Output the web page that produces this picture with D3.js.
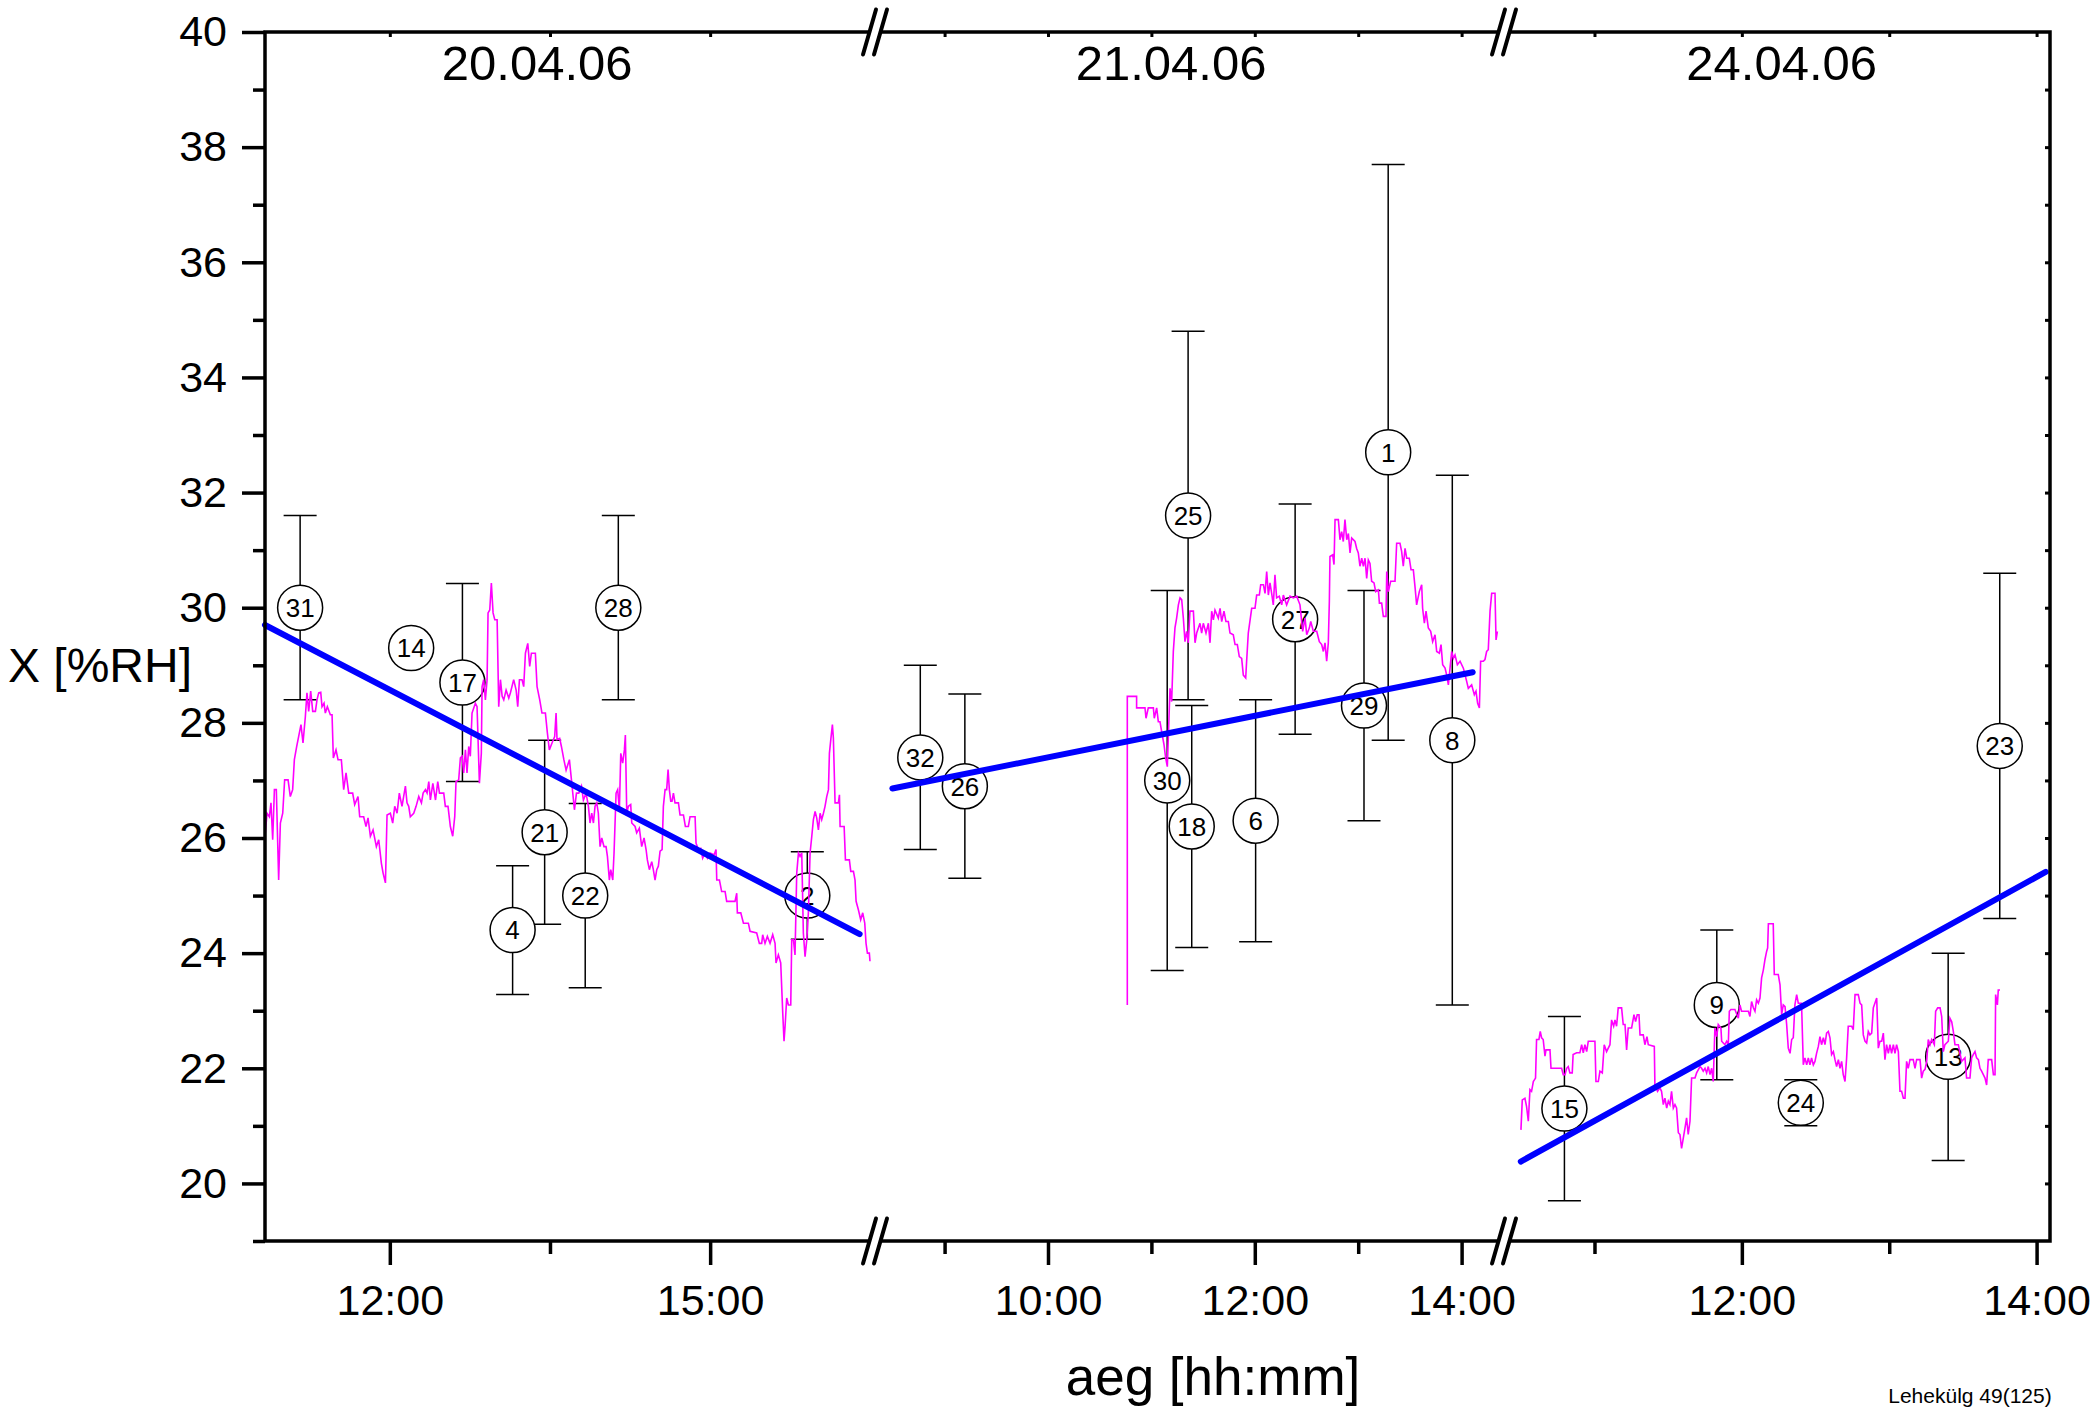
<!DOCTYPE html>
<html>
<head>
<meta charset="utf-8">
<script src="https://cdn.jsdelivr.net/npm/d3@7"></script>
<style>
  html, body { margin: 0; padding: 0; background: #fff; }
  svg { display: block; }
  text { font-family: "Liberation Sans", Arial, Helvetica, sans-serif; fill: #000; }
</style>
</head>
<body>
<svg id="chart" width="2100" height="1413"></svg>
<script>
// ---------------- data ----------------
// measurement days (one panel per day, broken time axis)
const days = ["20.04.06", "21.04.06", "24.04.06"];
// visible clock-hour range of each panel
const dayRanges = [[10.831, 16.544], [8.327, 14.41], [10.386, 14.091]];
const majorHours = [[12, 15], [10, 12, 14], [12, 14]];
const minorHours = [[13.5], [9, 11, 13], [11, 13]];
const yMajor = [20, 22, 24, 26, 28, 30, 32, 34, 36, 38, 40];
const yMinor = [19, 21, 23, 25, 27, 29, 31, 33, 35, 37, 39];

// numbered reference measurements: id, clock hour, mean %RH, half-width of error bar
const sampleIds = [
  [31, 14, 17, 4, 21, 22, 28, 2],
  [32, 26, 30, 25, 18, 6, 27, 29, 1, 8],
  [15, 9, 24, 13, 23]
];
const sampleHours = [
  [11.16, 12.20, 12.68, 13.15, 13.45, 13.83, 14.14, 15.91],
  [8.765, 9.196, 11.153, 11.355, 11.39, 12.008, 12.39, 13.056, 13.29, 13.91],
  [10.796, 11.83, 12.40, 13.40, 13.75]
];
const sampleValues = [
  [30.0, 29.3, 28.7, 24.4, 26.1, 25.0, 30.0, 25.0],
  [27.4, 26.9, 27.0, 31.6, 26.2, 26.3, 29.8, 28.3, 32.7, 27.7],
  [21.3, 23.1, 21.4, 22.2, 27.6]
];
const sampleErrors = [
  [1.6, 0, 1.72, 1.12, 1.6, 1.6, 1.6, 0.76],
  [1.6, 1.6, 3.3, 3.2, 2.1, 2.1, 2.0, 2.0, 5.0, 4.6],
  [1.6, 1.3, 0.4, 1.8, 3.0]
];

// linear trend per day: [hour, %RH] at both ends
const trendStart = [[10.831, 29.70], [8.495, 26.86], [10.50, 20.38]];
const trendEnd = [[16.40, 24.33], [14.107, 28.88], [14.062, 25.41]];

// logger record per day: [clock hour, %RH]
const loggerDay1 = [
  [10.834,26.09],[10.850,26.43],[10.872,26.37],[10.887,26.61],[10.903,25.97],[10.919,26.84],[10.937,26.84],
  [10.959,25.27],[10.975,26.26],[10.997,26.43],[11.015,27.01],[11.047,27.01],[11.068,26.72],[11.090,26.84],
  [11.106,27.36],[11.128,27.59],[11.146,27.76],[11.168,27.97],[11.187,27.65],[11.209,28.11],[11.224,28.52],
  [11.240,28.20],[11.259,28.55],[11.278,28.20],[11.303,28.20],[11.318,28.40],[11.334,28.52],[11.353,28.53],
  [11.365,28.28],[11.384,28.34],[11.396,28.17],[11.415,28.28],[11.443,28.14],[11.459,28.14],[11.471,27.39],
  [11.496,27.53],[11.515,27.36],[11.546,27.36],[11.568,26.84],[11.590,27.13],[11.615,26.78],[11.652,26.78],
  [11.671,26.58],[11.702,26.72],[11.718,26.37],[11.755,26.37],[11.777,26.20],[11.796,26.35],[11.818,26.03],
  [11.843,26.14],[11.874,25.85],[11.896,25.97],[11.921,25.56],[11.937,25.39],[11.959,25.22],[11.974,26.40],
  [12.005,26.43],[12.027,26.26],[12.046,26.55],[12.068,26.43],[12.089,26.78],[12.114,26.55],[12.146,26.90],
  [12.161,26.61],[12.177,26.55],[12.192,26.37],[12.224,26.43],[12.246,26.55],[12.271,26.72],[12.296,26.61],
  [12.312,26.78],[12.334,26.84],[12.349,26.78],[12.365,26.98],[12.380,26.66],[12.403,26.95],[12.428,26.66],
  [12.449,26.98],[12.465,26.78],[12.505,26.78],[12.520,26.55],[12.545,26.55],[12.567,26.20],[12.589,26.03],
  [12.608,26.37],[12.620,26.98],[12.645,27.01],[12.661,27.39],[12.677,27.42],[12.692,27.13],[12.708,27.53],
  [12.723,27.13],[12.739,27.59],[12.754,27.42],[12.770,28.17],[12.801,28.34],[12.817,28.28],[12.839,26.95],
  [12.857,27.47],[12.864,28.63],[12.879,28.75],[12.895,28.40],[12.911,28.75],[12.920,29.91],[12.936,29.96],
  [12.951,30.43],[12.967,29.91],[12.983,29.79],[13.005,29.79],[13.020,28.28],[13.036,28.75],[13.052,28.46],
  [13.067,28.40],[13.089,28.57],[13.114,28.43],[13.129,28.52],[13.160,28.75],[13.183,28.57],[13.198,28.28],
  [13.214,28.75],[13.238,28.75],[13.254,28.63],[13.270,29.21],[13.292,29.38],[13.310,28.98],[13.326,29.21],
  [13.363,29.21],[13.379,28.63],[13.404,28.40],[13.425,28.17],[13.457,28.17],[13.476,27.82],[13.494,27.53],
  [13.519,27.65],[13.544,27.76],[13.557,28.17],[13.566,27.71],[13.591,27.73],[13.607,27.59],[13.630,27.36],
  [13.651,27.18],[13.682,27.36],[13.707,26.90],[13.729,26.49],[13.748,26.78],[13.770,26.78],[13.795,26.90],
  [13.813,26.66],[13.838,26.78],[13.860,26.55],[13.875,26.26],[13.891,26.43],[13.907,26.26],[13.922,26.55],
  [13.938,26.61],[13.953,26.43],[13.969,25.85],[13.985,26.00],[14.006,25.85],[14.025,25.85],[14.038,25.68],
  [14.056,25.27],[14.069,25.45],[14.088,25.27],[14.100,25.74],[14.119,26.78],[14.134,26.84],[14.150,26.49],
  [14.163,27.47],[14.181,27.30],[14.197,27.53],[14.206,27.79],[14.219,26.43],[14.234,26.55],[14.256,26.58],
  [14.266,26.26],[14.297,26.20],[14.312,26.09],[14.337,26.17],[14.359,25.85],[14.381,26.00],[14.400,25.80],
  [14.412,25.62],[14.431,25.45],[14.453,25.59],[14.468,25.45],[14.484,25.27],[14.500,25.45],[14.515,25.51],
  [14.531,25.77],[14.550,25.80],[14.562,26.55],[14.578,26.84],[14.593,26.84],[14.606,27.19],[14.618,26.84],
  [14.631,26.64],[14.643,26.64],[14.656,26.78],[14.671,26.61],[14.703,26.61],[14.718,26.40],[14.750,26.40],
  [14.768,26.20],[14.796,26.20],[14.812,26.37],[14.859,26.37],[14.868,25.91],[14.890,25.80],[14.912,25.82],
  [14.930,25.65],[14.952,25.74],[14.974,25.65],[14.999,25.74],[15.037,25.71],[15.055,25.80],[15.062,25.27],
  [15.087,25.27],[15.108,25.07],[15.140,25.07],[15.155,24.90],[15.233,24.90],[15.249,25.04],[15.255,24.70],
  [15.287,24.70],[15.312,24.52],[15.358,24.52],[15.374,24.38],[15.436,24.35],[15.461,24.17],[15.483,24.17],
  [15.492,24.32],[15.514,24.17],[15.536,24.29],[15.561,24.17],[15.586,24.32],[15.608,24.17],[15.617,23.83],
  [15.639,23.97],[15.661,23.83],[15.680,22.96],[15.692,22.47],[15.702,22.73],[15.717,23.22],[15.733,23.10],
  [15.755,23.10],[15.764,24.23],[15.780,24.23],[15.795,23.97],[15.811,25.39],[15.827,25.74],[15.842,25.68],
  [15.858,25.74],[15.873,24.35],[15.889,23.94],[15.905,24.23],[15.920,24.70],[15.936,25.74],[15.952,26.03],
  [15.967,26.32],[15.983,26.46],[15.998,26.35],[16.014,26.14],[16.030,26.43],[16.045,26.32],[16.061,26.43],
  [16.076,26.55],[16.092,26.72],[16.108,26.84],[16.117,27.47],[16.130,27.71],[16.145,27.97],[16.154,27.74],
  [16.170,26.61],[16.201,26.61],[16.211,26.75],[16.217,26.20],[16.255,26.20],[16.267,25.62],[16.304,25.62],
  [16.317,25.42],[16.342,25.42],[16.357,25.27],[16.367,24.90],[16.389,24.75],[16.410,24.58],[16.429,24.70],
  [16.448,24.52],[16.460,24.17],[16.473,24.00],[16.491,24.00],[16.497,23.86]
];
const loggerDay2 = [
  [10.767,23.10],[10.767,28.46],[10.857,28.46],[10.857,28.26],[10.938,28.26],[10.948,28.08],[10.970,28.26],
  [11.019,28.26],[11.028,28.08],[11.051,28.26],[11.067,28.02],[11.083,28.02],[11.099,27.85],[11.122,27.62],
  [11.138,27.39],[11.154,27.24],[11.170,28.08],[11.180,28.60],[11.196,28.37],[11.212,29.24],[11.228,29.65],
  [11.244,29.82],[11.261,30.05],[11.277,30.17],[11.293,30.14],[11.309,29.82],[11.325,29.41],[11.341,29.59],
  [11.357,29.39],[11.373,29.94],[11.406,29.94],[11.422,29.39],[11.438,29.56],[11.470,29.73],[11.486,29.56],
  [11.502,29.73],[11.528,29.56],[11.551,29.73],[11.567,29.39],[11.583,29.94],[11.599,29.79],[11.615,29.96],
  [11.647,29.82],[11.664,29.99],[11.680,29.76],[11.702,29.94],[11.721,29.76],[11.744,29.76],[11.760,29.56],
  [11.792,29.53],[11.809,29.36],[11.831,29.36],[11.850,29.15],[11.873,29.12],[11.889,28.83],[11.912,28.78],
  [11.921,29.07],[11.937,29.56],[11.970,29.99],[12.002,29.99],[12.018,30.22],[12.044,30.22],[12.057,30.40],
  [12.083,30.40],[12.099,30.25],[12.115,30.63],[12.131,30.22],[12.147,30.43],[12.163,30.25],[12.179,30.05],
  [12.195,30.57],[12.211,30.17],[12.237,30.20],[12.260,30.05],[12.276,30.22],[12.308,30.05],[12.341,30.20],
  [12.373,30.17],[12.405,30.20],[12.437,30.05],[12.463,29.59],[12.486,29.82],[12.502,29.53],[12.528,29.65],
  [12.541,29.76],[12.566,29.59],[12.599,29.59],[12.624,29.41],[12.647,29.36],[12.663,29.24],[12.679,29.39],
  [12.695,29.07],[12.711,29.39],[12.721,30.11],[12.727,30.89],[12.753,30.92],[12.766,30.75],[12.776,31.53],
  [12.808,31.53],[12.824,31.18],[12.840,31.32],[12.856,31.15],[12.872,31.53],[12.889,31.18],[12.905,31.29],
  [12.921,30.95],[12.937,31.21],[12.969,31.15],[12.985,31.03],[13.001,30.95],[13.017,30.72],[13.034,30.86],
  [13.050,30.72],[13.066,30.86],[13.082,30.51],[13.098,30.83],[13.114,30.77],[13.130,30.46],[13.153,30.43],
  [13.169,30.28],[13.195,30.31],[13.205,30.08],[13.227,30.08],[13.243,29.85],[13.269,29.85],[13.276,30.63],
  [13.292,30.28],[13.314,30.46],[13.356,30.46],[13.372,31.12],[13.404,31.12],[13.420,30.98],[13.436,30.72],
  [13.453,31.03],[13.469,30.86],[13.494,30.86],[13.511,30.66],[13.533,30.66],[13.549,30.37],[13.565,30.05],
  [13.591,30.28],[13.614,30.40],[13.623,29.99],[13.640,29.73],[13.656,29.94],[13.678,29.65],[13.701,29.59],
  [13.720,29.41],[13.743,29.53],[13.759,29.24],[13.785,29.21],[13.801,29.36],[13.817,29.01],[13.840,28.95],
  [13.856,28.83],[13.872,28.66],[13.888,28.95],[13.904,29.24],[13.920,29.12],[13.936,29.18],[13.959,29.01],
  [13.985,29.07],[14.017,28.95],[14.049,28.72],[14.065,28.60],[14.097,28.66],[14.123,28.49],[14.139,28.55],
  [14.155,28.34],[14.172,28.26],[14.184,29.07],[14.210,29.07],[14.226,29.10],[14.242,29.24],[14.258,29.27],
  [14.275,29.94],[14.291,30.25],[14.323,30.25],[14.333,29.44],[14.346,29.59]
];
const loggerDay3 = [
  [10.501,20.93],[10.510,21.45],[10.528,21.48],[10.539,21.34],[10.551,21.08],[10.562,21.63],[10.573,21.60],
  [10.585,21.77],[10.600,21.83],[10.607,22.50],[10.623,22.50],[10.632,22.64],[10.641,22.53],[10.652,22.50],
  [10.664,22.21],[10.671,22.32],[10.698,22.32],[10.705,22.00],[10.777,22.00],[10.788,21.89],[10.800,21.89],
  [10.811,22.00],[10.822,22.03],[10.833,21.92],[10.849,21.92],[10.855,22.24],[10.879,22.27],[10.901,22.27],
  [10.913,22.41],[10.924,22.27],[10.935,22.41],[10.947,22.29],[10.958,22.47],[11.003,22.47],[11.010,21.77],
  [11.026,21.77],[11.037,21.95],[11.053,21.92],[11.066,22.41],[11.082,22.29],[11.105,22.41],[11.116,22.84],
  [11.130,22.73],[11.139,22.84],[11.150,22.73],[11.161,23.05],[11.184,23.05],[11.195,22.76],[11.207,22.76],
  [11.218,22.32],[11.229,22.70],[11.252,22.70],[11.268,22.93],[11.279,22.81],[11.290,22.93],[11.302,22.93],
  [11.309,22.58],[11.331,22.58],[11.342,22.41],[11.356,22.55],[11.365,22.41],[11.406,22.38],[11.410,21.71],
  [11.428,21.60],[11.444,21.66],[11.455,21.60],[11.467,21.37],[11.478,21.48],[11.490,21.31],[11.501,21.43],
  [11.512,21.37],[11.523,21.60],[11.535,21.31],[11.546,21.37],[11.557,21.31],[11.569,20.88],[11.580,20.85],
  [11.591,20.61],[11.603,20.79],[11.614,20.96],[11.625,21.14],[11.636,20.85],[11.648,21.08],[11.659,21.83],
  [11.682,21.83],[11.693,21.92],[11.716,22.03],[11.727,22.00],[11.738,21.95],[11.750,22.00],[11.761,21.92],
  [11.772,22.03],[11.784,21.89],[11.795,22.00],[11.806,21.77],[11.817,22.70],[11.829,22.55],[11.840,22.76],
  [11.858,22.70],[11.863,22.47],[11.874,22.44],[11.885,22.41],[11.897,22.47],[11.908,22.41],[11.915,22.99],
  [11.926,23.02],[11.953,23.02],[11.976,22.87],[11.987,23.10],[11.998,22.99],[12.044,22.99],[12.055,22.90],
  [12.066,23.16],[12.078,23.05],[12.089,22.99],[12.100,23.19],[12.112,23.13],[12.123,23.22],[12.134,23.57],
  [12.146,23.71],[12.157,23.89],[12.168,24.03],[12.175,24.09],[12.180,24.51],[12.213,24.51],[12.220,23.63],
  [12.247,23.63],[12.259,23.45],[12.270,22.93],[12.281,23.10],[12.293,23.07],[12.304,22.76],[12.315,22.35],
  [12.327,22.26],[12.338,22.50],[12.349,22.53],[12.360,23.10],[12.372,23.28],[12.383,23.13],[12.405,23.13],
  [12.417,22.06],[12.428,22.18],[12.440,22.06],[12.451,22.18],[12.462,22.06],[12.473,22.18],[12.485,22.06],
  [12.496,22.12],[12.507,22.26],[12.519,22.38],[12.530,22.55],[12.541,22.41],[12.553,22.53],[12.564,22.41],
  [12.575,22.61],[12.587,22.64],[12.598,22.53],[12.609,22.24],[12.621,22.29],[12.632,22.15],[12.643,22.03],
  [12.655,22.15],[12.666,22.00],[12.677,22.12],[12.688,21.89],[12.700,21.77],[12.711,22.18],[12.722,22.73],
  [12.745,22.73],[12.756,22.67],[12.768,23.28],[12.790,23.28],[12.802,23.13],[12.813,23.10],[12.824,22.58],
  [12.836,22.47],[12.847,22.44],[12.858,22.64],[12.869,22.58],[12.881,22.61],[12.892,23.05],[12.915,23.22],
  [12.926,22.35],[12.937,22.47],[12.949,22.47],[12.960,22.61],[12.971,22.15],[12.982,22.41],[12.994,22.26],
  [13.005,22.41],[13.016,22.26],[13.028,22.41],[13.039,22.26],[13.050,22.41],[13.062,22.29],[13.073,21.60],
  [13.084,21.60],[13.096,21.48],[13.107,21.48],[13.118,22.12],[13.129,22.00],[13.141,22.15],[13.163,22.15],
  [13.175,22.00],[13.186,22.15],[13.209,22.15],[13.220,21.83],[13.231,21.95],[13.243,21.98],[13.254,22.12],
  [13.265,22.50],[13.277,22.41],[13.288,22.50],[13.306,22.41],[13.315,22.99],[13.329,23.05],[13.345,23.05],
  [13.356,22.90],[13.367,22.29],[13.378,22.41],[13.401,22.47],[13.412,22.87],[13.424,22.81],[13.435,22.64],
  [13.446,22.41],[13.469,22.41],[13.491,22.12],[13.514,22.18],[13.525,21.83],[13.548,21.83],[13.559,22.18],
  [13.571,22.24],[13.582,22.29],[13.593,22.18],[13.605,22.15],[13.616,22.00],[13.627,21.95],[13.650,21.83],
  [13.661,21.71],[13.672,22.15],[13.695,22.15],[13.707,21.89],[13.718,21.89],[13.722,23.28],[13.734,23.10],
  [13.740,23.36],[13.752,23.36]
];
const loggerDays = [loggerDay1, loggerDay2, loggerDay3];

// ---------------- layout ----------------
const FONT = '"Liberation Sans", Arial, Helvetica, sans-serif';
const frame = { left: 265, right: 2050, top: 32, bottom: 1241 };
const panelEdges = [265, 875, 1504, 2050];     // x pixel edges of the three day panels
const dateLabelHours = [13.38, 11.19, 12.27];  // where the date caption sits in each panel

const svg = d3.select("#chart");
svg.append("rect").attr("width", 2100).attr("height", 1413).attr("fill", "#fff");

const y = d3.scaleLinear().domain([19, 40]).range([frame.bottom, frame.top]);
const xs = dayRanges.map((r, i) =>
  d3.scaleLinear().domain(r).range([panelEdges[i], panelEdges[i + 1]]));

const hhmm = h => {
  const hh = Math.floor(h + 1e-9), mm = Math.round((h - hh) * 60);
  return String(hh).padStart(2, "0") + ":" + String(mm).padStart(2, "0");
};

const plot = svg.append("g");

// ---- error bars and numbered circles ----
days.forEach((day, i) => {
  const x = xs[i];
  const recs = sampleIds[i].map((id, k) => ({
    id, h: sampleHours[i][k], v: sampleValues[i][k], e: sampleErrors[i][k]
  }));
  const g = plot.append("g").attr("class", "samples");
  const bars = g.selectAll("g.err").data(recs.filter(d => d.e > 0)).join("g")
    .attr("class", "err").attr("stroke", "#000").attr("stroke-width", 1.5);
  bars.append("line")
    .attr("x1", d => x(d.h)).attr("x2", d => x(d.h))
    .attr("y1", d => y(d.v + d.e)).attr("y2", d => y(d.v - d.e));
  bars.append("line")
    .attr("x1", d => x(d.h) - 16.5).attr("x2", d => x(d.h) + 16.5)
    .attr("y1", d => y(d.v + d.e)).attr("y2", d => y(d.v + d.e));
  bars.append("line")
    .attr("x1", d => x(d.h) - 16.5).attr("x2", d => x(d.h) + 16.5)
    .attr("y1", d => y(d.v - d.e)).attr("y2", d => y(d.v - d.e));

  const marks = g.selectAll("g.mark").data(recs).join("g").attr("class", "mark")
    .attr("transform", d => `translate(${x(d.h)},${y(d.v)})`);
  marks.append("circle").attr("r", 22.5)
    .attr("fill", "#fff").attr("stroke", "#000").attr("stroke-width", 1.5);
  marks.append("text").text(d => d.id)
    .attr("text-anchor", "middle").attr("dy", "0.36em")
    .attr("font-size", 26).attr("font-family", FONT);
});

// ---- logger records ----
days.forEach((day, i) => {
  const line = d3.line().x(d => xs[i](d[0])).y(d => y(d[1]));
  plot.append("path").datum(loggerDays[i])
    .attr("d", line).attr("fill", "none")
    .attr("stroke", "#ff00ff").attr("stroke-width", 1.6)
    .attr("stroke-linejoin", "miter");
});

// ---- linear trends ----
days.forEach((day, i) => {
  plot.append("line")
    .attr("x1", xs[i](trendStart[i][0])).attr("y1", y(trendStart[i][1]))
    .attr("x2", xs[i](trendEnd[i][0])).attr("y2", y(trendEnd[i][1]))
    .attr("stroke", "#0000ff").attr("stroke-width", 6).attr("stroke-linecap", "round");
});

// ---- axes ----
const axisStyle = (g, size) => {
  g.select(".domain").remove();
  g.selectAll(".tick line").attr("stroke", "#000").attr("stroke-width", 3.5);
  g.selectAll(".tick text").attr("font-size", size).attr("font-family", FONT).attr("fill", "#000");
  g.attr("font-family", FONT);
};

// left: labelled majors, short minors (outward)
svg.append("g").attr("transform", `translate(${frame.left},0)`)
  .call(d3.axisLeft(y).tickValues(yMajor).tickSize(23).tickPadding(15).tickFormat(d3.format("d")))
  .call(g => axisStyle(g, 43));
svg.append("g").attr("transform", `translate(${frame.left},0)`)
  .call(d3.axisLeft(y).tickValues(yMinor).tickSize(12).tickFormat(""))
  .call(g => axisStyle(g, 0));
// right: small inward ticks
svg.append("g").attr("transform", `translate(${frame.right},0)`)
  .call(d3.axisLeft(y).tickValues(d3.range(20, 40)).tickSize(5).tickFormat(""))
  .call(g => { axisStyle(g, 0); g.selectAll(".tick line").attr("stroke-width", 3); });

days.forEach((day, i) => {
  const x = xs[i];
  svg.append("g").attr("transform", `translate(0,${frame.bottom})`)
    .call(d3.axisBottom(x).tickValues(majorHours[i]).tickSize(24).tickPadding(19.5).tickFormat(hhmm))
    .call(g => axisStyle(g, 43));
  svg.append("g").attr("transform", `translate(0,${frame.bottom})`)
    .call(d3.axisBottom(x).tickValues(minorHours[i]).tickSize(13).tickFormat(""))
    .call(g => axisStyle(g, 0));
  // top: small inward ticks
  svg.append("g").attr("transform", `translate(0,${frame.top})`)
    .call(d3.axisBottom(x).tickValues(majorHours[i].concat(minorHours[i])).tickSize(5).tickFormat(""))
    .call(g => { axisStyle(g, 0); g.selectAll(".tick line").attr("stroke-width", 3); });

  // date caption
  svg.append("text").text(day)
    .attr("x", x(dateLabelHours[i])).attr("y", 80)
    .attr("text-anchor", "middle").attr("font-size", 49).attr("font-family", FONT);
});

// frame
svg.append("rect")
  .attr("x", frame.left).attr("y", frame.top)
  .attr("width", frame.right - frame.left).attr("height", frame.bottom - frame.top)
  .attr("fill", "none").attr("stroke", "#000").attr("stroke-width", 3.5);

// axis break symbols "//" on top and bottom axes
const breaks = svg.append("g");
panelEdges.slice(1, -1).forEach(bx => {
  [frame.top, frame.bottom].forEach(by => {
    breaks.append("rect").attr("x", bx - 5).attr("y", by - 4).attr("width", 10).attr("height", 8)
      .attr("fill", "#fff");
    [-5.5, 5.5].forEach(off => {
      breaks.append("line")
        .attr("x1", bx + off - 6.5).attr("y1", by + 22.5)
        .attr("x2", bx + off + 6.5).attr("y2", by - 22.5)
        .attr("stroke", "#000").attr("stroke-width", 4).attr("stroke-linecap", "round");
    });
  });
});

// axis titles and page note
svg.append("text").text("X [%RH]")
  .attr("x", 8).attr("y", 682).attr("font-size", 48).attr("font-family", FONT);
svg.append("text").text("aeg [hh:mm]")
  .attr("x", 1213).attr("y", 1395).attr("text-anchor", "middle")
  .attr("font-size", 53).attr("font-family", FONT);
svg.append("text").text("Lehekülg 49(125)")
  .attr("x", 1970).attr("y", 1403).attr("text-anchor", "middle")
  .attr("font-size", 21).attr("font-family", FONT);
</script>
</body>
</html>
